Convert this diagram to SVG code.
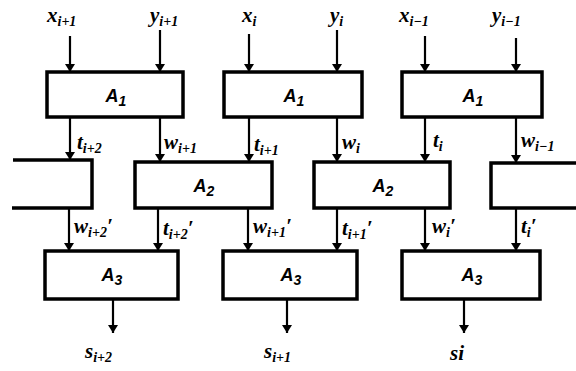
<svg xmlns="http://www.w3.org/2000/svg" width="576" height="371" viewBox="0 0 576 371">
<defs>
<marker id="ah" viewBox="0 0 8 10" refX="8" refY="5" markerWidth="8" markerHeight="10" markerUnits="userSpaceOnUse" orient="auto">
<path d="M0,0 L8,5 L0,10 Z" fill="#000"/>
</marker>
<style>
.box{fill:#fff;stroke:#000;stroke-width:3.5}
.open{fill:none;stroke:#000;stroke-width:3.5}
.ln{stroke:#000;stroke-width:2.2;fill:none;marker-end:url(#ah)}
.v{font-family:"Liberation Serif",serif;font-style:italic;font-weight:bold;font-size:21px;fill:#000}
.s{font-size:14px}
.a{font-family:"Liberation Sans",sans-serif;font-style:italic;font-weight:bold;font-size:18px;fill:#000;text-anchor:middle}
</style>
</defs>
<rect width="576" height="371" fill="#fff"/>
<g id="A1a"><rect class="box" x="47" y="72" width="136" height="45"/><text class="a" x="116" y="102">A<tspan class="s" dy="4">1</tspan></text></g>
<g id="A1b"><rect class="box" x="224" y="72" width="138" height="45"/><text class="a" x="294" y="102">A<tspan class="s" dy="4">1</tspan></text></g>
<g id="A1c"><rect class="box" x="402" y="72" width="140" height="45"/><text class="a" x="473" y="102">A<tspan class="s" dy="4">1</tspan></text></g>
<g id="A2l"><path class="open" d="M13,160 H92 V208 H12"/></g>
<g id="A2a"><rect class="box" x="135" y="162" width="137" height="46"/><text class="a" x="204" y="192">A<tspan class="s" dy="4">2</tspan></text></g>
<g id="A2b"><rect class="box" x="314" y="162" width="136" height="46"/><text class="a" x="383" y="192">A<tspan class="s" dy="4">2</tspan></text></g>
<g id="A2r"><path class="open" d="M580,163 H491 V208 H580"/></g>
<g id="A3a"><rect class="box" x="45" y="251" width="133" height="48"/><text class="a" x="112" y="281">A<tspan class="s" dy="4">3</tspan></text></g>
<g id="A3b"><rect class="box" x="223" y="251" width="134" height="48"/><text class="a" x="291" y="281">A<tspan class="s" dy="4">3</tspan></text></g>
<g id="A3c"><rect class="box" x="402" y="251" width="138" height="48"/><text class="a" x="472" y="281">A<tspan class="s" dy="4">3</tspan></text></g>
<g id="connectors">
<line class="ln" x1="70" y1="36" x2="70" y2="72"/>
<line class="ln" x1="160" y1="30" x2="160" y2="72"/>
<line class="ln" x1="249" y1="34" x2="249" y2="72"/>
<line class="ln" x1="337" y1="30" x2="337" y2="72"/>
<line class="ln" x1="425" y1="36" x2="425" y2="72"/>
<line class="ln" x1="516" y1="38" x2="516" y2="72"/>
<line class="ln" x1="70" y1="117" x2="70" y2="160"/>
<line class="ln" x1="160" y1="117" x2="160" y2="162"/>
<line class="ln" x1="249" y1="117" x2="249" y2="162"/>
<line class="ln" x1="337" y1="117" x2="337" y2="162"/>
<line class="ln" x1="425" y1="117" x2="425" y2="162"/>
<line class="ln" x1="516" y1="117" x2="516" y2="163"/>
<line class="ln" x1="69" y1="208" x2="69" y2="251"/>
<line class="ln" x1="158" y1="208" x2="158" y2="251"/>
<line class="ln" x1="248" y1="208" x2="248" y2="251"/>
<line class="ln" x1="337" y1="208" x2="337" y2="251"/>
<line class="ln" x1="425" y1="208" x2="425" y2="251"/>
<line class="ln" x1="516" y1="208" x2="516" y2="251"/>
<line class="ln" x1="113" y1="299" x2="113" y2="333"/>
<line class="ln" x1="287" y1="299" x2="287" y2="333"/>
<line class="ln" x1="464" y1="299" x2="464" y2="333"/>
</g>
<g id="labels">
<text class="v" x="47" y="22">x<tspan class="s" dy="4">i+1</tspan></text>
<text class="v" x="150" y="22">y<tspan class="s" dy="4">i+1</tspan></text>
<text class="v" x="242" y="22">x<tspan class="s" dy="4">i</tspan></text>
<text class="v" x="330" y="22">y<tspan class="s" dy="4">i</tspan></text>
<text class="v" x="399" y="22">x<tspan class="s" dy="4">i−1</tspan></text>
<text class="v" x="492" y="22">y<tspan class="s" dy="4">i−1</tspan></text>
<text class="v" x="77" y="149">t<tspan class="s" dy="4">i+2</tspan></text>
<text class="v" x="164" y="149">w<tspan class="s" dy="4">i+1</tspan></text>
<text class="v" x="254" y="151">t<tspan class="s" dy="4">i+1</tspan></text>
<text class="v" x="342" y="149">w<tspan class="s" dy="4">i</tspan></text>
<text class="v" x="433" y="147">t<tspan class="s" dy="4">i</tspan></text>
<text class="v" x="521" y="147">w<tspan class="s" dy="4">i−1</tspan></text>
<text class="v" x="74" y="233">w<tspan class="s" dy="4">i+2</tspan><tspan dy="-4">′</tspan></text>
<text class="v" x="163" y="235">t<tspan class="s" dy="4">i+2</tspan><tspan dy="-4">′</tspan></text>
<text class="v" x="253" y="233">w<tspan class="s" dy="4">i+1</tspan><tspan dy="-4">′</tspan></text>
<text class="v" x="342" y="235">t<tspan class="s" dy="4">i+1</tspan><tspan dy="-4">′</tspan></text>
<text class="v" x="432" y="233">w<tspan class="s" dy="4">i</tspan><tspan dy="-4">′</tspan></text>
<text class="v" x="521" y="233">t<tspan class="s" dy="4">i</tspan><tspan dy="-4">′</tspan></text>
<text class="v" x="85" y="358">s<tspan class="s" dy="4">i+2</tspan></text>
<text class="v" x="264" y="358">s<tspan class="s" dy="4">i+1</tspan></text>
<text class="v" x="450" y="360">si</text>
</g>
</svg>
